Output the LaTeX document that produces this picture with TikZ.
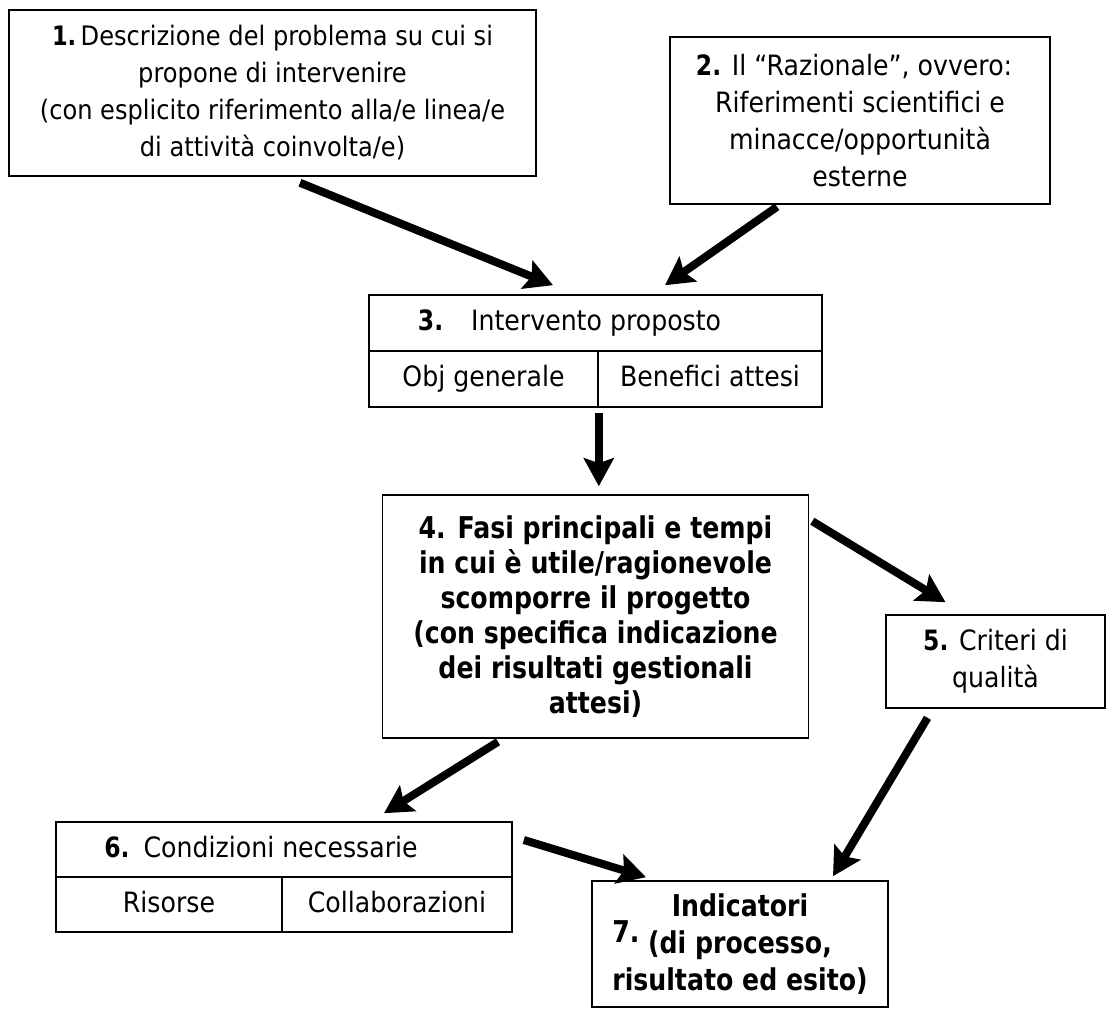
\documentclass[tikz,border=0pt]{standalone}
\usepackage{fontspec}
\setmainfont{DejaVu Sans}[FakeStretch=0.9,BoldFeatures={FakeStretch=0.84}]
\usepackage{tikz}
\usetikzlibrary{arrows.meta,calc}

\begin{document}
\begin{tikzpicture}[x=0.5pt,y=-0.5pt]
	\tikzset{box/.style={draw,line width=0.8pt,align=center,inner sep=2pt,
			font=\fontsize{14}{18.5}\selectfont},
		cell/.style={box,text height=10.5pt,text depth=3pt},
		boldbox/.style={box,font=\fontsize{15}{17.5}\selectfont\bfseries},
		arr/.style={line width=4pt,-{Stealth[length=14pt,width=15pt,inset=2.5pt]}}}
	\useasboundingbox (0,0) rectangle (1107,1010);
	\node[box,font=\fontsize{13.4}{18.5}\selectfont,minimum width=263.5pt,minimum height=83pt] (1) at (272.5,93) {\textbf{1.}\,Descrizione del problema su cui si\\propone di intervenire\\(con esplicito riferimento alla/e linea/e\\di attività coinvolta/e)};
	\node[box,minimum width=190pt,minimum height=83.5pt] (2) at (860,120.5) {\textbf{2.} Il “Razionale”, ovvero:\hspace*{6pt}\\Riferimenti scientifici e\\minacce/opportunità\\esterne};
	\node[cell,minimum width=226.5pt,minimum height=28pt] (3) at (595.5,323) {\textbf{3.}\quad Intervento proposto\hspace*{26pt}};
	\node[cell,minimum width=114.5pt,minimum height=28pt] (3a) at (483.5,379) {Obj generale};
	\node[cell,minimum width=112pt,minimum height=28pt] (3b) at (710,379) {Benefici attesi};
	\node[boldbox,minimum width=213pt,minimum height=121.5pt] (4) at (595.5,616.5) {4. Fasi principali e tempi\\in cui è utile/ragionevole\\scomporre il progetto\\(con specifica indicazione\\dei risultati gestionali\\attesi)};
	\node[box,minimum width=109.5pt,minimum height=46.5pt] (5) at (995.5,661.5) {\textbf{5.} Criteri di\\qualità};
	\node[cell,minimum width=228pt,minimum height=27.5pt] (6) at (284,849.5) {\textbf{6.}\enspace Condizioni necessarie\hspace*{23pt}};
	\node[cell,minimum width=113pt,minimum height=27.5pt] (6a) at (169,904.5) {Risorse};
	\node[cell,minimum width=115pt,minimum height=27.5pt] (6b) at (397,904.5) {Collaborazioni};
	\node[boldbox,font=\fontsize{15}{18.5}\selectfont\bfseries,minimum width=148pt,minimum height=63pt] (7) at (740,944) {Indicatori\\(di processo,\\risultato ed esito)};
	\node[font=\fontsize{15}{15}\selectfont\bfseries] (7n) at (626,932) {7.};
	\path[arr]
		($(1.south)+(27.5,6)$) edge ($(3.north)+(-42.5,-9)$)
		($(2.south)+(-83,2)$) edge ($(3.north)+(69.5,-9)$)
		($(3a.south east)+(0,5)$) edge ($(3a.south east |- 4.north)+(0,-8)$)
		($(4.north east)+(3,27)$) edge ($(5.north)+(-50,-12)$)
		($(4.south)+(-97.5,3)$) edge ($(6.north)+(100,-8)$)
		($(5.south)+(-68,9)$) edge ($(7.north)+(93,-4)$)
		($(6.east)+(11,-9.5)$) edge ($(7.north)+(-94,-3)$);
\end{tikzpicture}
\end{document}
